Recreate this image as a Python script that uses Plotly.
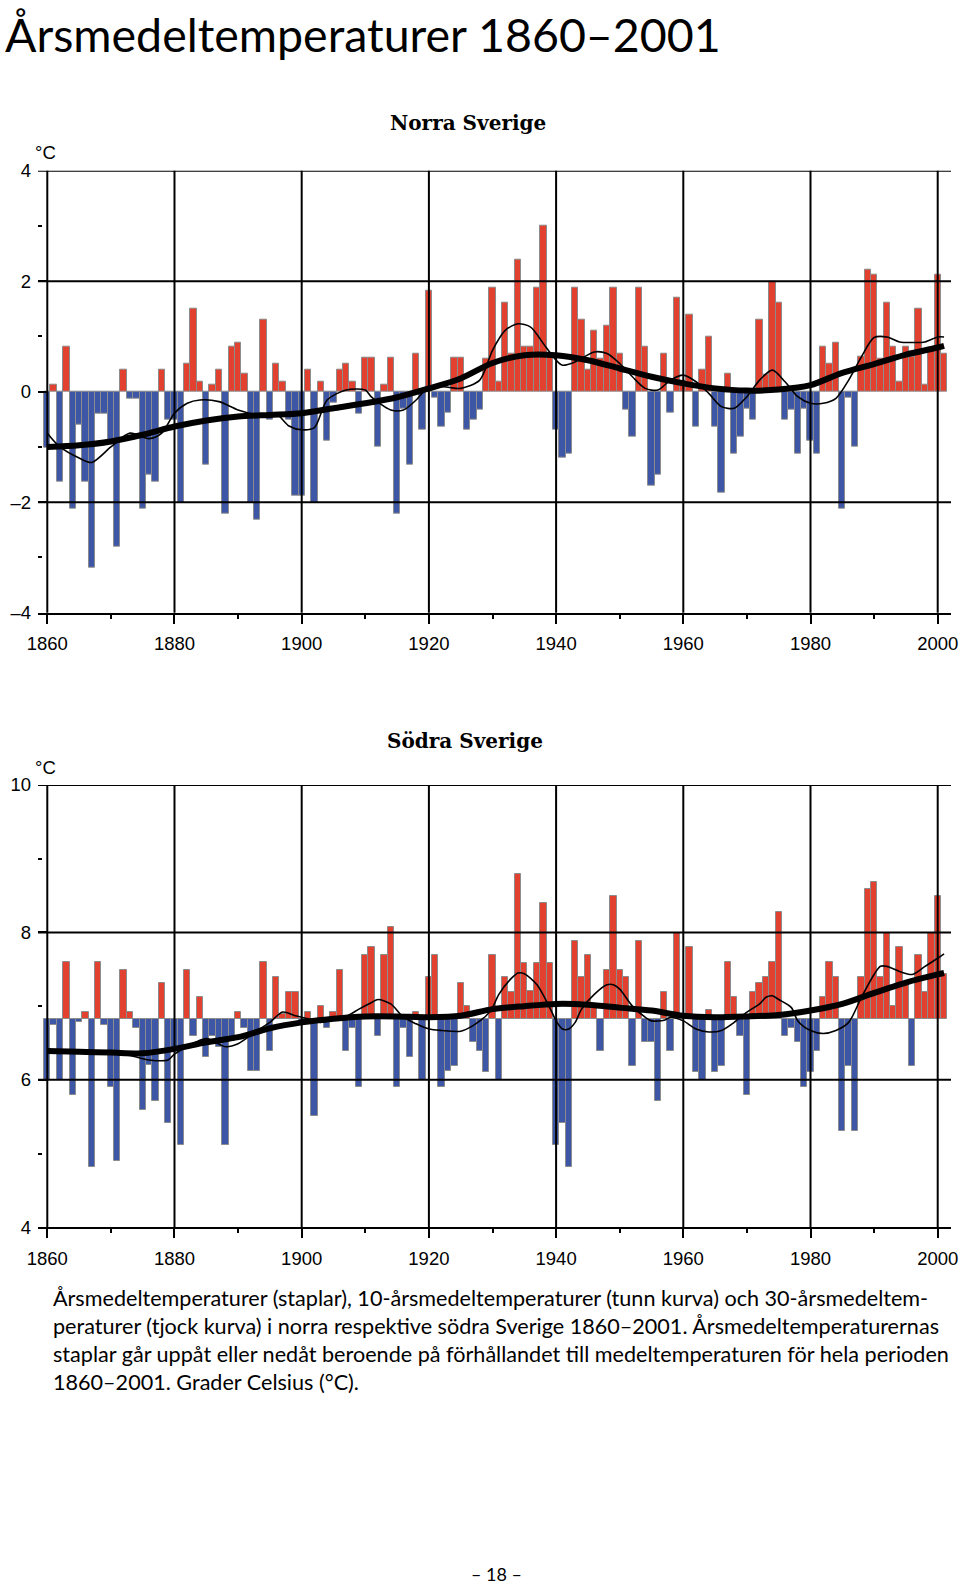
import plotly.graph_objects as go

# ---------------- data ----------------
YEARS = list(range(1860, 2002))

# Norra Sverige: annual mean temperature, deviation from 1860-2001 mean (°C)
NORTH_ANOM = [
    -1.02, 0.12, -1.63, 0.81, -2.12, -0.6, -1.63, -3.19, -0.39, -0.39,      # 1860-69
    -0.9, -2.81, 0.39, -0.12, -0.12, -2.12, -1.5, -1.63, 0.39, -0.51,       # 1870-79
    -0.5, -2.0, 0.51, 1.51, 0.19, -1.33, 0.12, 0.39, -2.2, 0.81,            # 1880-89
    0.89, 0.32, -2.0, -2.32, 1.31, -0.51, 0.51, 0.19, -0.5, -1.88,          # 1890-99
    -1.88, 0.39, -2.0, 0.19, -0.89, -0.2, 0.39, 0.51, 0.19, -0.39,          # 1900-09
    0.62, 0.62, -1.0, 0.12, 0.62, -2.2, -0.3, -1.33, 0.69, -0.69,           # 1910-19
    1.82, -0.1, -0.63, -0.38, 0.62, 0.62, -0.69, -0.51, -0.32, 0.6,         # 1920-29
    1.89, 0.19, 1.61, 0.69, 2.39, 0.81, 0.81, 1.89, 3.0, 0.69,              # 1930-39
    -0.69, -1.2, -1.13, 1.89, 1.31, 0.39, 1.11, 0.6, 1.2, 1.89,             # 1940-49
    0.69, -0.32, -0.81, 1.89, 0.81, -1.7, -1.5, 0.69, -0.38, 1.7,           # 1950-59
    0.2, 1.39, -0.63, 0.39, 1.0, -0.63, -1.82, 0.32, -1.13, -0.81,          # 1960-69
    -0.3, -0.51, 1.31, 0.3, 2.0, 1.61, -0.51, -0.33, -1.13, -0.3,           # 1970-79
    -0.89, -1.13, 0.81, 0.51, 0.89, -2.12, -0.1, -1.0, 0.63, 2.2,           # 1980-89
    2.11, 0.6, 1.61, 0.81, 0.18, 0.81, 0.63, 1.5, 0.12, 0.8,                # 1990-99
    2.11, 0.69,                                                             # 2000-01
]

# Södra Sverige: annual mean temperature (°C)
SOUTH_TEMP = [
    6.0, 6.75, 6.0, 7.6, 5.79, 6.78, 6.92, 4.82, 7.6, 6.74,                 # 1860-69
    5.91, 4.9, 7.49, 6.92, 6.71, 5.59, 6.2, 5.71, 7.32, 5.42,               # 1870-79
    6.4, 5.12, 7.49, 6.6, 7.12, 6.31, 6.6, 6.45, 5.12, 6.53,                # 1880-89
    6.92, 6.71, 6.12, 6.12, 7.6, 6.39, 7.39, 6.9, 7.19, 7.19,               # 1890-99
    6.78, 6.92, 5.51, 7.0, 6.7, 6.92, 7.49, 6.39, 6.71, 5.91,               # 1900-09
    7.69, 7.8, 6.59, 7.69, 8.08, 5.91, 6.7, 6.31, 6.92, 6.0,                # 1910-19
    7.39, 7.69, 5.91, 6.12, 6.19, 7.32, 7.0, 6.51, 6.39, 6.11,              # 1920-29
    7.69, 6.0, 7.39, 7.19, 8.79, 7.58, 7.2, 7.58, 8.4, 7.58,                # 1930-39
    5.12, 5.42, 4.82, 7.88, 7.39, 7.69, 6.98, 6.39, 7.49, 8.49,             # 1940-49
    7.49, 7.39, 6.19, 7.88, 6.51, 6.51, 5.71, 7.19, 6.39, 7.99,             # 1950-59
    6.9, 7.8, 6.11, 6.0, 6.95, 6.11, 6.19, 7.6, 7.12, 6.59,                 # 1960-69
    5.79, 7.19, 7.32, 7.39, 7.6, 8.28, 6.59, 6.7, 6.51, 5.91,               # 1970-79
    6.11, 6.39, 7.12, 7.6, 7.39, 5.31, 6.19, 5.31, 7.39, 8.59,              # 1980-89
    8.69, 7.39, 7.99, 7.0, 7.8, 7.29, 6.19, 7.69, 7.19, 7.99,               # 1990-99
    8.49, 7.43,                                                             # 2000-01
]
SOUTH_MEAN = 6.83

# 30-year running means (thick curve)
N30_YEARS = [1860, 1865, 1870, 1875, 1880, 1885, 1890, 1895, 1900, 1905, 1910, 1915,
             1920, 1925, 1930, 1935, 1940, 1945, 1950, 1955, 1960, 1965, 1970, 1975,
             1980, 1985, 1990, 1995, 2000, 2001]
N30_VALS = [-1.0, -0.97, -0.9, -0.78, -0.63, -0.52, -0.45, -0.42, -0.39, -0.3, -0.21, -0.1,
            0.06, 0.24, 0.52, 0.66, 0.66, 0.57, 0.42, 0.27, 0.15, 0.06, 0.02, 0.04,
            0.12, 0.34, 0.5, 0.67, 0.8, 0.83]
S30_YEARS = N30_YEARS
S30_VALS = [6.39, 6.38, 6.37, 6.36, 6.42, 6.51, 6.58, 6.7, 6.78, 6.83, 6.86, 6.86,
            6.85, 6.87, 6.96, 7.0, 7.03, 7.02, 6.98, 6.94, 6.87, 6.85, 6.86, 6.88,
            6.94, 7.03, 7.18, 7.32, 7.43, 7.45]

# 10-year running means (thin curve)
N10_YEARS = [1860, 1862, 1865, 1867, 1870, 1873, 1876, 1878, 1880, 1882, 1884, 1887,
             1890, 1893, 1895, 1896, 1898, 1900, 1902, 1904, 1907, 1910, 1911, 1914,
             1916, 1918, 1920, 1923, 1925, 1928, 1930, 1932, 1934, 1936, 1938, 1940,
             1941, 1943, 1946, 1948, 1950, 1952, 1954, 1956, 1958, 1960, 1962, 1964,
             1966, 1968, 1970, 1972, 1974, 1976, 1978, 1980, 1982, 1984, 1986, 1988,
             1990, 1992, 1994, 1996, 1998, 2000, 2001]
N10_VALS = [-0.75, -1.0, -1.2, -1.28, -1.0, -0.75, -0.85, -0.75, -0.39, -0.21, -0.15, -0.18,
            -0.33, -0.42, -0.45, -0.4, -0.62, -0.69, -0.65, -0.15, 0.03, 0.03, -0.1, -0.33,
            -0.33, -0.15, 0.09, 0.08, 0.06, 0.21, 0.75, 1.11, 1.23, 1.17, 0.87, 0.57,
            0.48, 0.54, 0.72, 0.69, 0.51, 0.27, 0.06, 0.03, 0.21, 0.3, 0.18, -0.03,
            -0.27, -0.3, -0.09, 0.21, 0.39, 0.18, -0.09, -0.21, -0.21, -0.12, 0.21, 0.63,
            0.98, 0.99, 0.9, 0.89, 0.9, 0.99, 0.99]
S10_YEARS = [1860, 1865, 1870, 1873, 1876, 1879, 1880, 1882, 1885, 1888, 1890, 1893,
             1895, 1897, 1899, 1901, 1903, 1905, 1907, 1909, 1911, 1912, 1914, 1916,
             1918, 1920, 1922, 1925, 1927, 1929, 1930, 1931, 1933, 1934, 1935, 1937,
             1939, 1940, 1941, 1942, 1943, 1944, 1946, 1948, 1949, 1950, 1952, 1954,
             1955, 1957, 1958, 1960, 1962, 1964, 1966, 1968, 1970, 1972, 1973, 1974,
             1975, 1977, 1978, 1980, 1982, 1984, 1986, 1988, 1990, 1991, 1992, 1994,
             1996, 1998, 2000, 2001]
S10_VALS = [6.4, 6.38, 6.36, 6.33, 6.27, 6.27, 6.35, 6.45, 6.56, 6.45, 6.49, 6.67,
            6.78, 6.92, 6.87, 6.83, 6.78, 6.83, 6.86, 6.96, 7.05, 7.09, 7.03, 6.85,
            6.76, 6.69, 6.67, 6.66, 6.74, 6.87, 6.98, 7.16, 7.38, 7.45, 7.44, 7.29,
            6.98, 6.8, 6.69, 6.69, 6.78, 6.96, 7.16, 7.29, 7.29, 7.23, 7.0, 6.85,
            6.8, 6.81, 6.85, 6.8, 6.69, 6.65, 6.67, 6.78, 6.92, 7.03, 7.12, 7.14,
            7.09, 6.98, 6.8, 6.67, 6.63, 6.67, 6.78, 7.12, 7.43, 7.54, 7.54, 7.47,
            7.43, 7.54, 7.65, 7.71]

X_MAJOR = [1860, 1880, 1900, 1920, 1940, 1960, 1980, 2000]
X_MINOR = [1870, 1890, 1910, 1930, 1950, 1970, 1990]
N_TICKS = [-4, -2, 0, 2, 4]
N_TICKTEXT = ["–4", "–2", "0", "2", "4"]
N_MINOR = [-3, -1, 1, 3]
N_GRID = [4, 2, -2]
S_TICKS = [4, 6, 8, 10]
S_TICKTEXT = ["4", "6", "8", "10"]
S_MINOR = [5, 7, 9]
S_GRID = [10, 8, 6]

TITLE = "Årsmedeltemperaturer 1860–2001"
SUB_N = "Norra Sverige"
SUB_S = "Södra Sverige"
CAPTION = [
    "Årsmedeltemperaturer (staplar), 10-årsmedeltemperaturer (tunn kurva) och 30-årsmedeltem-",
    "peraturer (tjock kurva) i norra respektive södra Sverige 1860–2001. Årsmedeltemperaturernas",
    "staplar går uppåt eller nedåt beroende på förhållandet till medeltemperaturen för hela perioden",
    "1860–2001. Grader Celsius (°C).",
]
PAGE = "– 18 –"

# ---------------- styling / layout ----------------
W, H = 960, 1589
RED = "#e2412f"
BLUE = "#3d56a6"
EDGE = "#8c8c8c"
AXFONT = dict(family="Liberation Sans, Arial, sans-serif", size=18.5, color="black")
TXTFONT = "Lato, Open Sans, sans-serif"


def py(p):
    return 1 - p / H


X_DOMAIN = [38 / W, 951 / W]
X_RANGE = [1858.54, 2002.09]
TOP_DOMAIN = [py(612.7), py(170.7)]
BOT_DOMAIN = [py(1227.3), py(785.0)]

fig = go.Figure()

# bars north
fig.add_trace(go.Bar(
    x=YEARS, y=NORTH_ANOM, width=1,
    marker=dict(color=[RED if v >= 0 else BLUE for v in NORTH_ANOM],
                line=dict(color=EDGE, width=1)),
    xaxis="x", yaxis="y", showlegend=False, hoverinfo="skip"))
# bars south (relative to period mean)
fig.add_trace(go.Bar(
    x=YEARS, y=[v - SOUTH_MEAN for v in SOUTH_TEMP], base=SOUTH_MEAN, width=1,
    marker=dict(color=[RED if v >= SOUTH_MEAN else BLUE for v in SOUTH_TEMP],
                line=dict(color=EDGE, width=1)),
    xaxis="x2", yaxis="y2", showlegend=False, hoverinfo="skip"))

for xs, ys, xa, ya in [(N10_YEARS, N10_VALS, "x", "y"), (S10_YEARS, S10_VALS, "x2", "y2")]:
    fig.add_trace(go.Scatter(x=xs, y=ys, mode="lines", xaxis=xa, yaxis=ya,
                             line=dict(color="black", width=1.6, shape="spline", smoothing=0.8),
                             showlegend=False, hoverinfo="skip"))
for xs, ys, xa, ya in [(N30_YEARS, N30_VALS, "x", "y"), (S30_YEARS, S30_VALS, "x2", "y2")]:
    fig.add_trace(go.Scatter(x=xs, y=ys, mode="lines", xaxis=xa, yaxis=ya,
                             line=dict(color="black", width=6, shape="spline", smoothing=0.8),
                             showlegend=False, hoverinfo="skip"))


def xaxis_def(anchor):
    return dict(domain=X_DOMAIN, range=X_RANGE, anchor=anchor, showgrid=False, zeroline=False,
                automargin=False, fixedrange=True,
                showline=True, linecolor="black", linewidth=2,
                tickmode="array", tickvals=X_MAJOR, ticktext=[str(v) for v in X_MAJOR],
                ticks="outside", ticklen=9, tickwidth=2, tickcolor="black",
                tickfont=AXFONT, ticklabelstandoff=4,
                minor=dict(tickmode="array", tickvals=X_MINOR, ticks="outside", ticklen=4,
                           tickwidth=2, tickcolor="black", showgrid=False))


def yaxis_def(anchor, domain, rng, tv, tt, mv):
    return dict(domain=domain, range=rng, anchor=anchor, showgrid=False, zeroline=False,
                automargin=False, fixedrange=True,
                showline=False, tickmode="array", tickvals=tv, ticktext=tt,
                ticks="inside", ticklen=9, tickwidth=2, tickcolor="black",
                tickfont=AXFONT, ticklabelstandoff=6,
                minor=dict(tickmode="array", tickvals=mv, ticks="inside", ticklen=4,
                           tickwidth=2, tickcolor="black", showgrid=False))


fig.update_layout(
    width=W, height=H, margin=dict(l=0, r=0, t=0, b=0, autoexpand=False),
    paper_bgcolor="white", plot_bgcolor="white", bargap=0, barmode="overlay",
    xaxis=xaxis_def("y"),
    yaxis=yaxis_def("x", TOP_DOMAIN, [-4, 4], N_TICKS, N_TICKTEXT, N_MINOR),
    xaxis2=xaxis_def("y2"),
    yaxis2=yaxis_def("x2", BOT_DOMAIN, [4, 10], S_TICKS, S_TICKTEXT, S_MINOR),
)

shapes = []
for xa, ya, grid in [("x", "y", N_GRID), ("x2", "y2", S_GRID)]:
    for xv in X_MAJOR:
        shapes.append(dict(type="line", xref=xa, yref=ya + " domain", x0=xv, x1=xv, y0=0, y1=1,
                           line=dict(color="black", width=2), layer="above"))
    for yv in grid:
        shapes.append(dict(type="line", xref=xa + " domain", yref=ya, x0=0, x1=1, y0=yv, y1=yv,
                           line=dict(color="black", width=2), layer="above"))
fig.update_layout(shapes=shapes)

ann = []
ann.append(dict(text=TITLE, x=3 / W, y=py(34), xref="paper", yref="paper",
                xanchor="left", yanchor="middle", showarrow=False,
                font=dict(family=TXTFONT, size=46.5, color="black")))
for txt, xc, yc in [(SUB_N, 468, 123), (SUB_S, 465, 741)]:
    ann.append(dict(text="<b>" + txt + "</b>", x=xc / W, y=py(yc), xref="paper", yref="paper",
                    xanchor="center", yanchor="middle", showarrow=False,
                    font=dict(family="DejaVu Serif, serif", size=20, color="black")))
for yc in (153, 767):
    ann.append(dict(text="°C", x=33 / W, y=py(yc), xref="paper", yref="paper",
                    xanchor="left", yanchor="middle", showarrow=False, font=AXFONT))
for i, line in enumerate(CAPTION):
    ann.append(dict(text=line, x=51 / W, y=py(1298 + 28 * i), xref="paper", yref="paper",
                    xanchor="left", yanchor="middle", showarrow=False,
                    font=dict(family=TXTFONT, size=21.6, color="black")))
ann.append(dict(text=PAGE, x=496 / W, y=py(1574), xref="paper", yref="paper",
                xanchor="center", yanchor="middle", showarrow=False, borderpad=0,
                font=dict(family=TXTFONT, size=18, color="black")))
fig.update_layout(annotations=ann)

fig.write_html("out.html", config={"displayModeBar": False},
               post_script="document.body.style.margin='0px';document.body.style.overflow='hidden';")
